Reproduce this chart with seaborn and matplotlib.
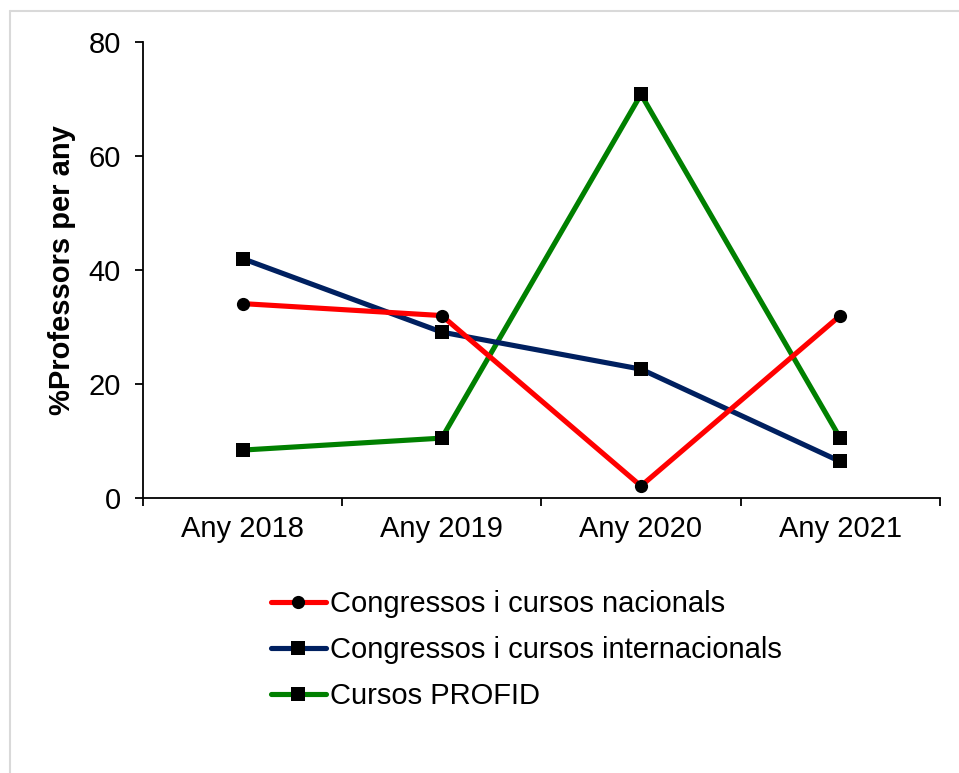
import numpy as np
import pandas as pd
import seaborn as sns
import matplotlib.pyplot as plt
from matplotlib.lines import Line2D

years = ["Any 2018", "Any 2019", "Any 2020", "Any 2021"]
series_names = [
    "Congressos i cursos nacionals",
    "Congressos i cursos internacionals",
    "Cursos PROFID",
]
nacionals = [34.1, 32.0, 2.1, 32.0]
internacionals = [42.0, 29.1, 22.6, 6.4]
profid = [8.4, 10.5, 70.8, 10.5]

colors = {
    series_names[0]: "#FF0000",
    series_names[1]: "#002060",
    series_names[2]: "#008000",
}
markers = {series_names[0]: "o", series_names[1]: "s", series_names[2]: "s"}

df = pd.DataFrame({
    "year": years * 3,
    "value": nacionals + internacionals + profid,
    "series": [s for s in series_names for _ in years],
})

sns.set_style("ticks")
plt.rcParams["font.family"] = ["Liberation Sans", "DejaVu Sans"]
plt.rcParams["text.color"] = "black"
plt.rcParams["axes.labelcolor"] = "black"
plt.rcParams["xtick.color"] = "black"
plt.rcParams["ytick.color"] = "black"

fig = plt.figure(figsize=(9.59, 7.73), dpi=100)
ax = fig.add_axes([0.149, 0.3558, 0.831, 0.5899])

sns.lineplot(
    data=df, x="year", y="value", hue="series", style="series",
    hue_order=series_names, style_order=series_names,
    palette=colors, markers=markers, dashes=False, legend=False,
    linewidth=3.7, markersize=9.5, markerfacecolor="black",
    markeredgecolor="black", markeredgewidth=0, ax=ax,
)

# red on top, then blue, then green
for line, z in zip(ax.lines, [4, 3, 2]):
    line.set_zorder(z)

ax.set_xlim(-0.5, 3.5)
ax.set_ylim(0, 80)
ax.set_yticks([0, 20, 40, 60, 80])
ax.set_xticks(range(len(years)))
ax.set_xticklabels(years)
ax.set_xticks(np.arange(-0.5, 4, 1), minor=True)
ax.tick_params(axis="x", which="major", bottom=True, length=0, labelsize=21, pad=12)
ax.tick_params(axis="x", which="minor", bottom=True, length=6, width=1.3, direction="out")
ax.tick_params(axis="y", left=True, length=6, width=1.3, direction="out", labelsize=21, pad=10)
ax.set_xlabel("")
ax.set_ylabel("%Professors per any", fontsize=21, fontweight="bold", labelpad=9)

sns.despine(ax=ax)
for side in ["left", "bottom"]:
    ax.spines[side].set_color("black")
    ax.spines[side].set_linewidth(1.3)

handles = list(ax.lines[:3])
leg = fig.legend(
    handles, series_names, loc="upper left", bbox_to_anchor=(0.27, 0.252),
    frameon=False, fontsize=21, handlelength=1.9, handletextpad=0.15,
    labelspacing=0.62, borderaxespad=0,
)

# faint frame edges of the original picture
fig.add_artist(Line2D([10 / 959, 1], [1 - 11 / 773, 1 - 11 / 773], color="#d9d9d9", lw=1.5))
fig.add_artist(Line2D([10 / 959, 10 / 959], [0, 1 - 11 / 773], color="#d9d9d9", lw=1.5))

fig.savefig("out.png", dpi=100)
